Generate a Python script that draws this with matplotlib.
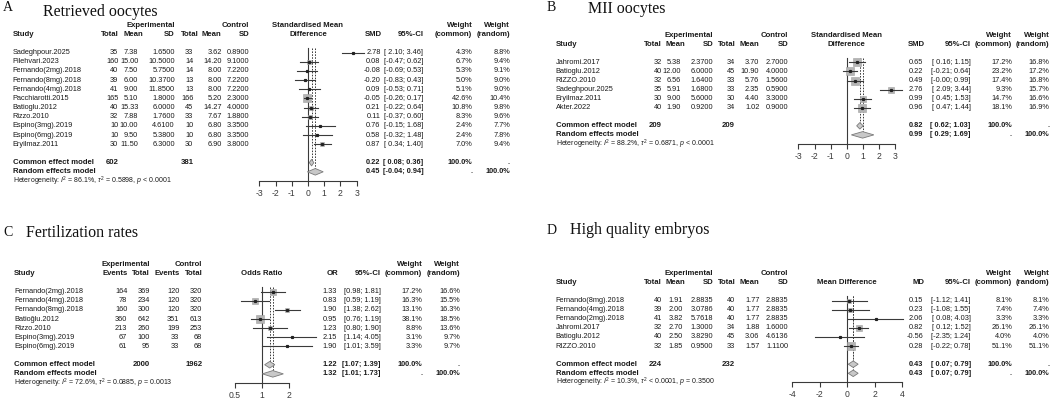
import numpy as np
import matplotlib.pyplot as plt
from matplotlib.patches import Polygon
from matplotlib.ticker import NullLocator
from matplotlib.transforms import blended_transform_factory

plt.rcParams['font.family'] = ['Liberation Sans', 'DejaVu Sans']
plt.rcParams['mathtext.fontset'] = 'custom'
plt.rcParams['mathtext.rm'] = 'Liberation Sans'
plt.rcParams['mathtext.it'] = 'Liberation Sans:italic'

# ---------------- A: retrieved oocytes (SMD)
a_study = ['Sadeghpour.2025', 'Pilehvari.2023', 'Fernando(2mg).2018', 'Fernando(8mg).2018',
           'Fernando(4mg).2018', 'Pacchiarotti.2015', 'Batioglu.2012', 'Rizzo.2010',
           'Espino(3mg).2019', 'Espino(6mg).2019', 'Eryilmaz.2011']
a_exp_n = [35, 160, 40, 39, 41, 165, 40, 32, 10, 10, 30]
a_exp_mean = [7.38, 15.00, 7.50, 6.00, 9.00, 5.10, 15.33, 7.88, 10.00, 9.50, 11.50]
a_exp_sd = [1.65, 10.5, 5.75, 10.37, 11.85, 1.8, 6.0, 1.76, 4.61, 5.38, 6.3]
a_ctl_n = [33, 14, 14, 13, 13, 166, 45, 33, 10, 10, 30]
a_ctl_mean = [3.62, 14.20, 8.00, 8.00, 8.00, 5.20, 14.27, 7.67, 6.80, 6.80, 6.90]
a_ctl_sd = [0.89, 9.10, 7.22, 7.22, 7.22, 2.30, 4.00, 1.88, 3.35, 3.35, 3.80]
a_est = [2.78, 0.08, -0.08, -0.20, 0.09, -0.05, 0.21, 0.11, 0.76, 0.58, 0.87]
a_lo = [2.10, -0.47, -0.69, -0.83, -0.53, -0.26, -0.22, -0.37, -0.15, -0.32, 0.34]
a_hi = [3.46, 0.62, 0.53, 0.43, 0.71, 0.17, 0.64, 0.60, 1.68, 1.48, 1.40]
a_wc = [4.3, 6.7, 5.3, 5.0, 5.1, 42.6, 10.8, 8.3, 2.4, 2.4, 7.0]
a_wr = [8.8, 9.4, 9.1, 9.0, 9.0, 10.4, 9.8, 9.6, 7.7, 7.8, 9.4]
a_common = (0.22, 0.08, 0.36)
a_random = (0.45, -0.04, 0.94)
a_totals = (602, 381)
a_het = r'Heterogeneity: $I^2$ = 86.1%, $\tau^2$ = 0.5898, $p$ < 0.0001'

# ---------------- B: MII oocytes (SMD)
b_study = ['Jahromi.2017', 'Batioglu.2012', 'RIZZO.2010', 'Sadeghpour.2025', 'Eryilmaz.2011', 'Akter.2022']
b_exp_n = [32, 40, 32, 35, 30, 40]
b_exp_mean = [5.38, 12.00, 6.56, 5.91, 9.00, 1.90]
b_exp_sd = [2.37, 6.0, 1.64, 1.68, 5.6, 0.92]
b_ctl_n = [34, 45, 33, 33, 30, 34]
b_ctl_mean = [3.70, 10.90, 5.76, 2.35, 4.40, 1.02]
b_ctl_sd = [2.70, 4.00, 1.56, 0.59, 3.30, 0.90]
b_est = [0.65, 0.22, 0.49, 2.76, 0.99, 0.96]
b_lo = [0.16, -0.21, -0.00, 2.09, 0.45, 0.47]
b_hi = [1.15, 0.64, 0.99, 3.44, 1.53, 1.44]
b_wc = [17.2, 23.2, 17.4, 9.3, 14.7, 18.1]
b_wr = [16.8, 17.2, 16.8, 15.7, 16.6, 16.9]
b_common = (0.82, 0.62, 1.03)
b_random = (0.99, 0.29, 1.69)
b_totals = (209, 209)
b_het = r'Heterogeneity: $I^2$ = 88.2%, $\tau^2$ = 0.6871, $p$ < 0.0001'

# ---------------- C: fertilization rates (OR)
c_study = ['Fernando(2mg).2018', 'Fernando(4mg).2018', 'Fernando(8mg).2018', 'Batioğlu.2012',
           'Rizzo.2010', 'Espino(3mg).2019', 'Espino(6mg).2019']
c_exp_ev = [164, 78, 160, 360, 213, 67, 61]
c_exp_n = [369, 234, 300, 642, 260, 100, 95]
c_ctl_ev = [120, 120, 120, 351, 199, 33, 33]
c_ctl_n = [320, 320, 320, 613, 253, 68, 68]
c_est = [1.33, 0.83, 1.90, 0.95, 1.23, 2.15, 1.90]
c_lo = [0.98, 0.59, 1.38, 0.76, 0.80, 1.14, 1.01]
c_hi = [1.81, 1.19, 2.62, 1.19, 1.90, 4.05, 3.59]
c_wc = [17.2, 16.3, 13.1, 38.1, 8.8, 3.1, 3.3]
c_wr = [16.6, 15.5, 16.3, 18.5, 13.6, 9.7, 9.7]
c_common = (1.22, 1.07, 1.39)
c_random = (1.32, 1.01, 1.73)
c_totals = (2000, 1962)
c_het = r'Heterogeneity: $I^2$ = 72.6%, $\tau^2$ = 0.0885, $p$ = 0.0013'

# ---------------- D: high quality embryos (MD)
d_study = ['Fernando(8mg).2018', 'Fernando(4mg).2018', 'Fernando(2mg).2018', 'Jahromi.2017',
           'Batioglu.2012', 'RIZZO.2010']
d_exp_n = [40, 39, 41, 32, 40, 32]
d_exp_mean = [1.91, 2.00, 3.82, 2.70, 2.50, 1.85]
d_exp_sd = [2.8835, 3.0786, 5.7618, 1.3000, 3.8290, 0.9500]
d_ctl_n = [40, 40, 40, 34, 45, 33]
d_ctl_mean = [1.77, 1.77, 1.77, 1.88, 3.06, 1.57]
d_ctl_sd = [2.8835, 2.8835, 2.8835, 1.6000, 4.6136, 1.1100]
d_est = [0.15, 0.23, 2.06, 0.82, -0.56, 0.28]
d_lo = [-1.12, -1.08, 0.08, 0.12, -2.35, -0.22]
d_hi = [1.41, 1.55, 4.03, 1.52, 1.24, 0.78]
d_wc = [8.1, 7.4, 3.3, 26.1, 4.0, 51.1]
d_wr = [8.1, 7.4, 3.3, 26.1, 4.0, 51.1]
d_common = (0.43, 0.07, 0.79)
d_random = (0.43, 0.07, 0.79)
d_totals = (224, 232)
d_het = r'Heterogeneity: $I^2$ = 10.3%, $\tau^2$ < 0.0001, $p$ = 0.3500'

W, H = 1052, 401
fig = plt.figure(figsize=(W / 100, H / 100), dpi=100)
FS = 5.3
FSB = 5.6
TXT = '#1a1a1a'
LINE = '#3a3a3a'


def ci_text(l, h, pad_l, pad_h):
    fl = '{: .2f}' if pad_l else '{:.2f}'
    fh = '{: .2f}' if pad_h else '{:.2f}'
    return '[' + fl.format(l) + '; ' + fh.format(h) + ']'


def draw_panel(y0, s, study_x, study, cols, groups, totals, est, lo, hi, wc, wr,
               common, random, het, fx, rx, eff_label, f_label, log=False):
    zero_px, unit, xmin, xmax, ticks, ticklabels = fx
    n = len(study)
    r_axis = n + 3
    conv = np.log2 if log else (lambda v: v)
    left = zero_px + unit * conv(xmin)
    right = zero_px + unit * conv(xmax)
    ax = fig.add_axes([left / W, 1 - (y0 + r_axis * s) / H,
                       (right - left) / W, (r_axis + 1) * s / H])
    ax.patch.set_visible(False)
    if log:
        ax.set_xscale('log')
    ax.set_xlim(xmin, xmax)
    ax.set_ylim(r_axis, -1)
    for sp in ['top', 'left', 'right']:
        ax.spines[sp].set_visible(False)
    ax.spines['bottom'].set_bounds(ticks[0], ticks[-1])
    ax.spines['bottom'].set_color(LINE)
    ax.spines['bottom'].set_linewidth(0.8)
    ax.set_xticks(ticks)
    ax.set_xticklabels(ticklabels)
    ax.xaxis.set_minor_locator(NullLocator())
    ax.set_yticks([])
    ax.tick_params(axis='x', direction='out', length=3.5, width=0.8, colors=LINE,
                   labelsize=6.2, pad=2.2)

    tr = blended_transform_factory(fig.transFigure, ax.transData)

    def put(x, r, txt, ha='right', bold=False, size=None):
        if size is None:
            size = FSB if bold else FS
        ax.text(x / W, r, txt, transform=tr, ha=ha, va='center', fontsize=size,
                fontweight='bold' if bold else 'normal', color=TXT)

    # left table
    put(study_x, -2, 'Study', 'left', True)
    for x, lab in groups:
        put(x, -3, lab, bold=True)
    for xv, xh, head, vals in cols:
        put(xh, -2, head, bold=True)
        for i, v in enumerate(vals):
            put(xv, i, v)
    for i, name in enumerate(study):
        put(study_x, i, name, 'left')
    put(study_x, n + 1, 'Common effect model', 'left', True)
    put(study_x, n + 2, 'Random effects model', 'left', True)
    for x, v in totals:
        put(x, n + 1, str(v), bold=True)
    put(study_x, n + 3, het, 'left', size=5.0)

    # forest header
    for k, line in enumerate(f_label[::-1]):
        put(zero_px, -2 - k, line, 'center', True)

    # right table
    x_eff, x_ci, x_wc, x_wr = rx
    put(x_eff + 1.5, -2, eff_label, bold=True)
    put(x_ci, -2, '95%-CI', bold=True)
    for x, lab in [(x_wc, '(common)'), (x_wr, '(random)')]:
        put(x, -3, 'Weight', bold=True)
        put(x, -2, lab, bold=True)
    pad_l = bool(np.any(np.signbit(list(lo) + [common[1], random[1]]))) and not log
    pad_h = bool(np.any(np.signbit(list(hi)))) and not log
    for i in range(n):
        put(x_eff, i, f'{est[i]:.2f}')
        put(x_ci, i, ci_text(lo[i], hi[i], pad_l, pad_h))
        put(x_wc, i, f'{wc[i]:.1f}%')
        put(x_wr, i, f'{wr[i]:.1f}%')
    for r, (e, l, h), wcs, wrs in [(n + 1, common, '100.0%', '.'), (n + 2, random, '.', '100.0%')]:
        put(x_eff, r, f'{e:.2f}', bold=True, size=FS)
        put(x_ci, r, ci_text(l, h, pad_l, pad_h), bold=True, size=FS)
        put(x_wc, r, wcs, bold=True, size=FS)
        put(x_wr, r, wrs, bold=True, size=FS)

    # forest marks
    null = 1 if log else 0
    ax.plot([null, null], [-0.5, r_axis], color=LINE, lw=0.8, zorder=1)
    ax.plot([common[0]] * 2, [-0.5, n + 1], color=LINE, lw=0.7, ls=(0, (1.6, 1.4)), zorder=1)
    ax.plot([random[0]] * 2, [-0.5, n + 2], color=LINE, lw=0.7, ls=(0, (1.6, 1.4)), zorder=1)
    wmax = max(wc)
    for i in range(n):
        ax.plot(est[i], i, 's', ms=6.0 * np.sqrt(wc[i] / wmax), color='#b4b4b4',
                mec='#a0a0a0', mew=0.4, zorder=2)
        ax.plot([lo[i], hi[i]], [i, i], color=LINE, lw=0.8, zorder=3, clip_on=False)
        ax.plot(est[i], i, 's', ms=1.3, color='#222222', zorder=4)
    h = 0.36
    for r, (e, l, hh) in [(n + 1, common), (n + 2, random)]:
        ax.add_patch(Polygon([(l, r), (e, r - h), (hh, r), (e, r + h)], closed=True,
                             fc='#c8c8c8', ec='#7a7a7a', lw=0.6, zorder=3))
    return ax


def mean_cols(x, en, em, es, cn, cm, cs):
    return [(x[0], x[0], 'Total', [str(v) for v in en]),
            (x[1], x[2], 'Mean', [f'{v:.2f}' for v in em]),
            (x[3], x[3], 'SD', [f'{v:.4f}' for v in es]),
            (x[4], x[5], 'Total', [str(v) for v in cn]),
            (x[6], x[6], 'Mean', [f'{v:.2f}' for v in cm]),
            (x[7], x[7], 'SD', [f'{v:.4f}' for v in cs])]


# A
draw_panel(52.6, 9.17, 12.7, a_study,
           mean_cols([118.3, 138.3, 143.3, 175, 193.3, 198.3, 221.7, 249.3],
                     a_exp_n, a_exp_mean, a_exp_sd, a_ctl_n, a_ctl_mean, a_ctl_sd),
           [(175, 'Experimental'), (249.3, 'Control')],
           [(118.3, a_totals[0]), (193.3, a_totals[1])],
           a_est, a_lo, a_hi, a_wc, a_wr, a_common, a_random, a_het,
           (308, 16.2, -3, 3.5, [-3, -2, -1, 0, 1, 2, 3], ['-3', '-2', '-1', '0', '1', '2', '3']),
           (380.5, 423.3, 472.3, 510), 'SMD', ['Standardised Mean', 'Difference'])

# B
draw_panel(62.4, 9.06, 555.7, b_study,
           mean_cols([661.7, 681, 685.7, 713.3, 735, 736, 759.3, 788.3],
                     b_exp_n, b_exp_mean, b_exp_sd, b_ctl_n, b_ctl_mean, b_ctl_sd),
           [(713.3, 'Experimental'), (788.3, 'Control')],
           [(661.7, b_totals[0]), (735, b_totals[1])],
           b_est, b_lo, b_hi, b_wc, b_wr, b_common, b_random, b_het,
           (846.7, 16.07, -3, 3.5, [-3, -2, -1, 0, 1, 2, 3], ['-3', '-2', '-1', '0', '1', '2', '3']),
           (923, 970.7, 1012, 1049.3), 'SMD', ['Standardised Mean', 'Difference'])

# C
draw_panel(291.6, 9.14, 14, c_study,
           [(127.3, 127.3, 'Events', [str(v) for v in c_exp_ev]),
            (150, 150, 'Total', [str(v) for v in c_exp_n]),
            (179.3, 179.3, 'Events', [str(v) for v in c_ctl_ev]),
            (202.3, 202.3, 'Total', [str(v) for v in c_ctl_n])],
           [(150, 'Experimental'), (202.3, 'Control')],
           [(150, c_totals[0]), (202.3, c_totals[1])],
           c_est, c_lo, c_hi, c_wc, c_wr, c_common, c_random, c_het,
           (262, 27, 0.5, 4.3, [0.5, 1, 2], ['0.5', '1', '2']),
           (336.7, 380.7, 422.3, 460), 'OR', ['Odds Ratio'], log=True)

# D
draw_panel(300.5, 9.1, 555.7, d_study,
           mean_cols([661.7, 683, 685.7, 713.3, 735, 736, 759.3, 788.3],
                     d_exp_n, d_exp_mean, d_exp_sd, d_ctl_n, d_ctl_mean, d_ctl_sd),
           [(713.3, 'Experimental'), (788.3, 'Control')],
           [(661.7, d_totals[0]), (735, d_totals[1])],
           d_est, d_lo, d_hi, d_wc, d_wr, d_common, d_random, d_het,
           (847.3, 13.75, -4, 4.2, [-4, -2, 0, 2, 4], ['-4', '-2', '0', '2', '4']),
           (923, 970.7, 1012, 1049.3), 'MD', ['Mean Difference'])

# panel letters and titles
serif = ['Liberation Serif', 'DejaVu Serif']
for x, y, t, size in [(3, 7.5, 'A', 10), (43, 11.5, 'Retrieved oocytes', 11.5),
                      (547, 7.5, 'B', 10), (588, 9, 'MII oocytes', 11.5),
                      (3, 232, 'C', 10), (26, 233, 'Fertilization rates', 11.5),
                      (547, 230, 'D', 10), (570, 230, 'High quality embryos', 11.5)]:
    fig.text(x / W, 1 - y / H, t, ha='left', va='center', fontsize=size,
             family=serif, color='#111111')

fig.savefig('out.png', dpi=100)
